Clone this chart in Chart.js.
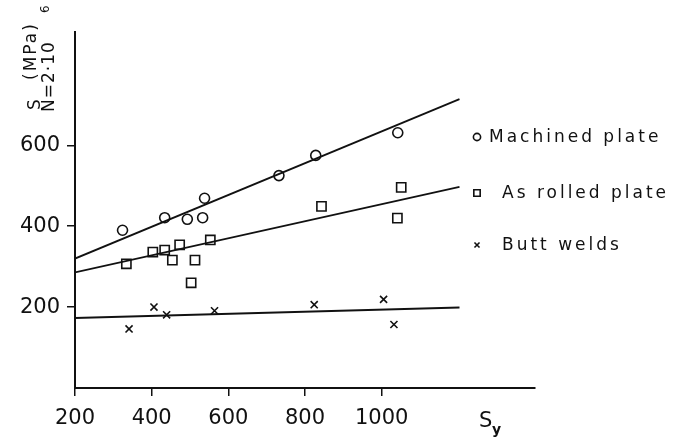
<!DOCTYPE html>
<html>
<head>
<meta charset="utf-8">
<script src="https://cdn.jsdelivr.net/npm/chart.js@4.4.1/dist/chart.umd.min.js"></script>
<style>
  html, body { margin: 0; padding: 0; background: #fff; }
  #wrap { width: 684px; height: 439px; }
</style>
</head>
<body>
<div id="wrap"><canvas id="myChart" width="684" height="439"></canvas></div>
<script>
// data (Sy in MPa, S in MPa at N=2·10^6)
const machinedSy = [324, 434, 493, 533, 538, 732, 828, 1042]
const machinedS = [390, 421, 417, 421, 469, 525, 575, 631]
const rolledSy = [334, 403, 434, 454, 473, 503, 513, 553, 843, 1041, 1051]
const rolledS = [307, 336, 341, 316, 354, 260, 316, 366, 449, 420, 496]
const weldSy = [341, 406, 439, 564, 824, 1005, 1032]
const weldS = [146, 200, 181, 191, 206, 219, 157]

// fitted lines, end points
const fitSy = [200, 1203]
const machinedFit = [320, 714]
const rolledFit = [286, 497]
const weldFit = [173, 199]

const xTicks = [200, 400, 600, 800, 1000]
const yTicks = [200, 400, 600]
const labels = ["Machined plate", "As rolled plate", "Butt welds"]

const ink = "#111"
const pts = (xs, ys) => xs.map((x, i) => ({ x: x, y: ys[i] }))

const scatterSet = (label, xs, ys, style, r) => ({
	label: label,
	data: pts(xs, ys),
	pointStyle: style,
	pointRadius: r,
	pointBorderColor: ink,
	pointBackgroundColor: "rgba(255,255,255,0)",
	pointBorderWidth: 1.6,
	showLine: false,
})
const fitSet = ys => ({
	data: pts(fitSy, ys),
	showLine: true,
	borderColor: ink,
	borderWidth: 1.8,
	pointRadius: 0,
	fit: true,
})

// rotated text, going upward, baseline at x
function upText(ctx, text, x, y, font, spacing) {
	ctx.save()
	ctx.translate(x, y)
	ctx.rotate(-Math.PI / 2)
	ctx.font = font
	ctx.letterSpacing = spacing + "px"
	ctx.textAlign = "left"
	ctx.textBaseline = "alphabetic"
	ctx.fillText(text, 0, 0)
	ctx.restore()
}

const extras = {
	id: "extras",
	afterDraw: chart => {
		const ctx = chart.ctx
		ctx.save()
		ctx.fillStyle = ink
		ctx.strokeStyle = ink

		// y axis title
		upText(ctx, "S", 40, 110, "17px 'DejaVu Sans'", 0)
		upText(ctx, "(MPa)", 36, 80, "17px 'DejaVu Sans'", 2)
		upText(ctx, "N=2·10", 54, 112, "17px 'DejaVu Sans'", 1)
		upText(ctx, "6", 49, 13, "12px 'DejaVu Sans'", 0)

		// x axis title
		ctx.font = "21px 'DejaVu Sans'"
		ctx.textBaseline = "alphabetic"
		ctx.fillText("S", 479, 427)
		ctx.font = "bold 14px 'DejaVu Sans'"
		ctx.fillText("y", 492, 434)

		// legend
		const legendY = [137, 193, 245]
		const textX = [489, 502, 502]
		const scatters = chart.data.datasets.filter(d => !d.fit)
		ctx.font = "17px 'DejaVu Sans'"
		ctx.letterSpacing = "3px"
		ctx.textBaseline = "middle"
		scatters.forEach((d, i) => {
			ctx.fillStyle = "#fff"
			ctx.lineWidth = 1.6
			Chart.helpers.drawPoint(ctx, { pointStyle: d.pointStyle, radius: d.pointStyle === "rect" ? 4.5 : 3.6, borderWidth: 1.6 }, 477, legendY[i])
			ctx.fillStyle = ink
			ctx.fillText(d.label, textX[i], legendY[i] + 1)
		})
		ctx.restore()
	},
}

const chart = new Chart(document.querySelector("#myChart").getContext("2d"), {
	type: "scatter",
	data: {
		datasets: [
			scatterSet(labels[0], machinedSy, machinedS, "circle", 5),
			scatterSet(labels[1], rolledSy, rolledS, "rect", 6.5),
			scatterSet(labels[2], weldSy, weldS, "crossRot", 5),
			fitSet(machinedFit),
			fitSet(rolledFit),
			fitSet(weldFit),
		],
	},
	options: {
		responsive: false,
		animation: false,
		events: [],
		layout: { padding: { top: 32, right: 149, left: 0, bottom: 0 } },
		plugins: { legend: { display: false }, tooltip: { enabled: false } },
		scales: {
			x: {
				type: "linear",
				min: 200,
				max: 1400,
				border: { color: ink, width: 2 },
				grid: { drawOnChartArea: false, color: ink, tickLength: 8, lineWidth: 1.5 },
				ticks: {
					color: ink,
					font: { family: "DejaVu Sans", size: 21 },
					padding: 10,
					maxRotation: 0,
					autoSkip: false,
					callback: v => String(v),
				},
				afterBuildTicks: axis => {
					axis.ticks = xTicks.map(v => ({ value: v }))
				},
				afterFit: scale => {
					scale.height = 51
				},
			},
			y: {
				type: "linear",
				min: 0,
				max: 880,
				border: { color: ink, width: 2 },
				grid: { drawOnChartArea: false, color: ink, tickLength: 8, lineWidth: 1.5 },
				ticks: {
					color: ink,
					font: { family: "DejaVu Sans", size: 21 },
					padding: 7,
					autoSkip: false,
					callback: v => String(v),
				},
				afterBuildTicks: axis => {
					axis.ticks = yTicks.map(v => ({ value: v }))
				},
				afterFit: scale => {
					scale.width = 75
				},
			},
		},
	},
	plugins: [extras],
})
</script>
</body>
</html>
